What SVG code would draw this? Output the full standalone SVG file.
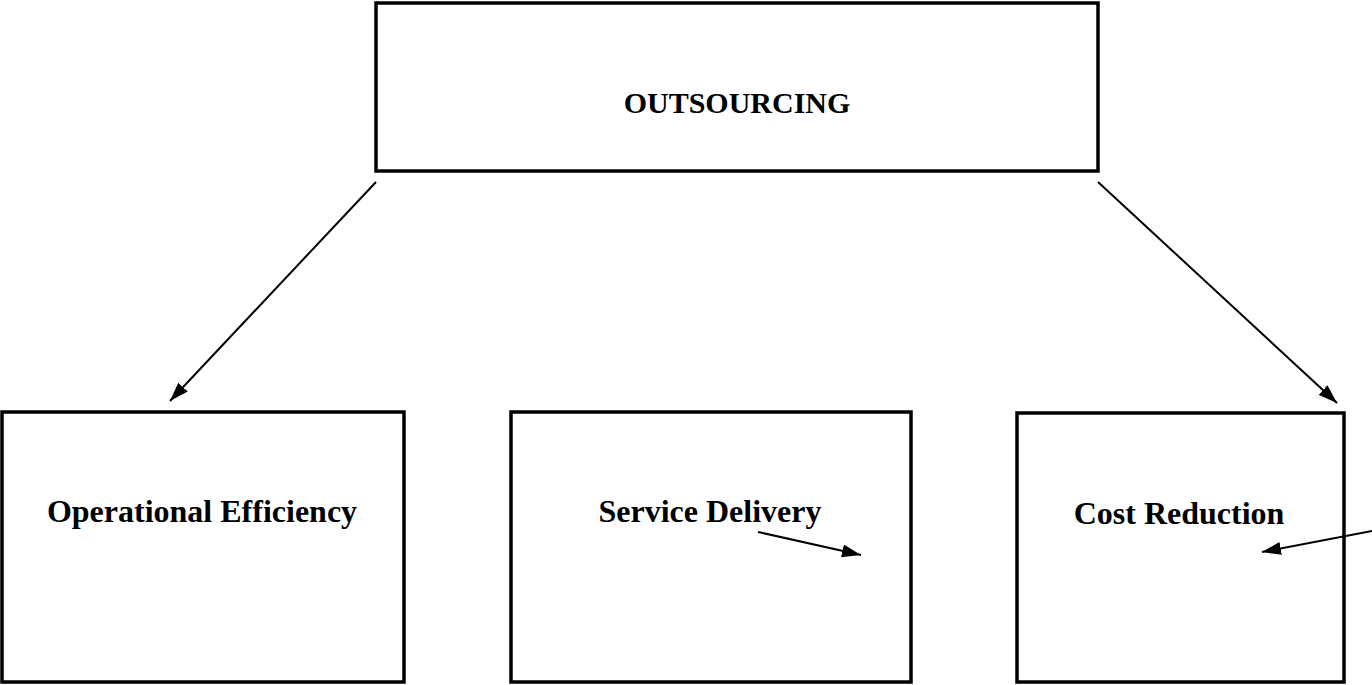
<svg xmlns="http://www.w3.org/2000/svg" width="1372" height="685" viewBox="0 0 1372 685">
<style>
.box{fill:#fff;stroke:#000;stroke-width:3.5}
.lbl{font-family:"Liberation Serif","Times New Roman",serif;font-weight:bold;font-size:32px;fill:#000}
.con{stroke:#000;stroke-width:2;fill:none;marker-end:url(#ah)}
</style>
<defs>
<marker id="ah" viewBox="0 0 10 10" refX="10" refY="5" markerWidth="19" markerHeight="13" markerUnits="userSpaceOnUse" orient="auto" preserveAspectRatio="none">
<path d="M0,0 L10,5 L0,10 z" fill="#000"/>
</marker>
</defs>
<rect width="1372" height="685" fill="#fff"/>
<g id="outsourcing"><rect class="box" x="376" y="3" width="722" height="168"/><text class="lbl" x="737" y="113" text-anchor="middle" style="font-size:30px">OUTSOURCING</text></g>
<g id="operational-efficiency"><rect class="box" x="2" y="412" width="402" height="270"/><text class="lbl" x="202" y="522" text-anchor="middle">Operational Efficiency</text></g>
<g id="service-delivery"><rect class="box" x="511" y="412" width="400" height="270"/><text class="lbl" x="710" y="522" text-anchor="middle">Service Delivery</text></g>
<g id="cost-reduction"><rect class="box" x="1017" y="413" width="327" height="269"/><text class="lbl" x="1179" y="524" text-anchor="middle">Cost Reduction</text></g>
<g id="connectors">
<line class="con" x1="376" y1="182" x2="170" y2="401"/>
<line class="con" x1="1098" y1="182" x2="1337" y2="403"/>
<line class="con" x1="758" y1="532" x2="861" y2="555"/>
<line class="con" x1="1372" y1="531" x2="1262" y2="552"/>
</g>
</svg>
